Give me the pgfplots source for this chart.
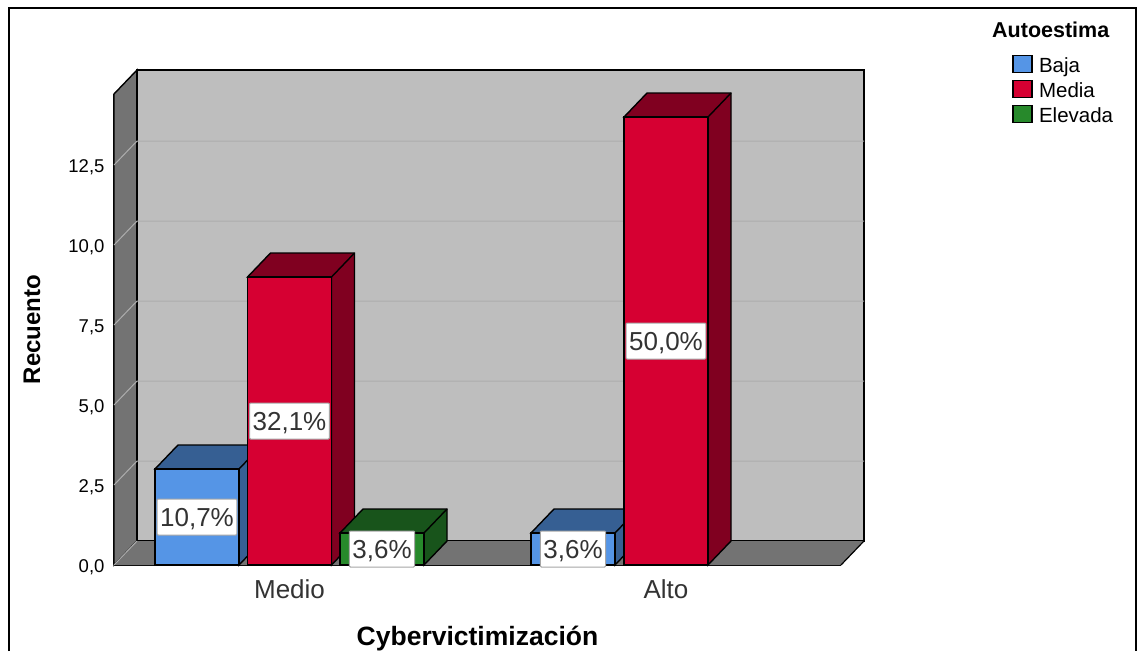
\documentclass[border=0pt]{standalone}
\usepackage{pgfplots}
\pgfplotsset{compat=1.18}
\usepackage{fontspec}
\setmainfont{Liberation Sans}
\definecolor{wall}{HTML}{BEBEBE}
\definecolor{side}{HTML}{737373}
\definecolor{gridl}{HTML}{ADADAD}
\definecolor{baja}{HTML}{5595E6}
\definecolor{bajad}{HTML}{365F93}
\definecolor{media}{HTML}{D60032}
\definecolor{mediad}{HTML}{800020}
\definecolor{elev}{HTML}{27892B}
\definecolor{elevd}{HTML}{18541B}
\definecolor{txt}{HTML}{333333}
\newcommand{\fs}[1]{\fontsize{#1}{#1}\selectfont}
\begin{document}
\begin{tikzpicture}[x=1pt,y=1pt]
\path[use as bounding box] (0,0) rectangle (1141,651);
\draw[black,line width=2pt] (8.5,0) -- (8.5,642.5) -- (1135.5,642.5) -- (1135.5,0);
\begin{axis}[
  at={(114pt,86pt)}, anchor=origin,
  scale only axis, width=727pt, height=471pt,
  xmin=114, xmax=841, ymin=0, ymax=14.72,
  clip=false, axis lines=left, axis line style={-, line width=1.4pt, black},
  major tick length=0pt, no marks,
  ytick={0,2.5,5,7.5,10,12.5},
  xtick={289.5,666}, xticklabels={Medio,Alto},
  /pgf/number format/.cd, fixed, fixed zerofill, precision=1, use comma, assume math mode=true,
  /pgfplots/.cd,
  yticklabel style={font=\fs{18.5}, text=black, xshift=-6pt, yshift=-2.5pt},
  xticklabel style={font=\fs{26}, text=txt, yshift=-11pt},
  xlabel={Cybervictimización}, ylabel={Recuento},
  every axis x label/.style={at={(axis description cs:0.5,0)},anchor=center,yshift=-74pt,font=\fs{26.5}\bfseries},
  every axis y label/.style={at={(axis description cs:0,0.5)},rotate=90,anchor=center,yshift=82pt,font=\fs{24}\bfseries},
  legend image code/.code={\draw[#1,line width=1.3pt] (0pt,-8.5pt) rectangle (19pt,8.5pt); \path (26pt,0pt);},
  legend style={at={(axis cs:1012,15.96)},anchor=north west,draw=none,fill=none,font=\fs{20.5},
    row sep=7pt, inner sep=0pt, nodes={inner sep=0pt, text height=17pt, text depth=0pt, xshift=3pt}},
  legend cell align=left,
]
% walls
\addplot[fill=wall,draw=black,line width=1.2pt,forget plot] coordinates {(137,0.75)(864,0.75)(864,15.47)(137,15.47)} -- cycle;
\addplot[fill=side,draw=black,line width=1.4pt,forget plot] coordinates {(114,0)(137,0.75)(137,15.47)(114,14.72)} -- cycle;
\addplot[fill=side,draw=none,forget plot] coordinates {(114,0)(841,0)(864,0.75)(137,0.75)} -- cycle;
\addplot[draw=black,line width=1.2pt,forget plot] coordinates {(841,0)(864,0.75)};
\addplot[draw=black,line width=1.2pt,forget plot] coordinates {(137,0.75)(137,15.47)};
% grid
\addplot[draw=gridl,line width=1pt,forget plot] coordinates {(114,2.5)(137,3.25)(864,3.25)};
\addplot[draw=gridl,line width=1pt,forget plot] coordinates {(114,5)(137,5.75)(864,5.75)};
\addplot[draw=gridl,line width=1pt,forget plot] coordinates {(114,7.5)(137,8.25)(864,8.25)};
\addplot[draw=gridl,line width=1pt,forget plot] coordinates {(114,10)(137,10.75)(864,10.75)};
\addplot[draw=gridl,line width=1pt,forget plot] coordinates {(114,12.5)(137,13.25)(864,13.25)};
\addplot[draw=gridl,line width=1pt,forget plot] coordinates {(114,0)(137,0.75)};
% Medio - Baja = 3
\addplot[fill=bajad,draw=black,line width=1.4pt,forget plot] coordinates {(239,0)(262,0.75)(262,3.75)(178,3.75)(155,3)(239,3)} -- cycle;
\addplot[draw=black,line width=1.4pt,forget plot] coordinates {(239,3)(262,3.75)};
\addplot[ybar,bar width=84pt,bar shift=0pt,fill=baja,draw=black,line width=1.4pt,forget plot] coordinates {(197,3)};
% Medio - Media = 9
\addplot[fill=mediad,draw=black,line width=1.4pt,forget plot] coordinates {(331.5,0)(354.5,0.75)(354.5,9.75)(270.5,9.75)(247.5,9)(331.5,9)} -- cycle;
\addplot[draw=black,line width=1.4pt,forget plot] coordinates {(331.5,9)(354.5,9.75)};
\addplot[ybar,bar width=84pt,bar shift=0pt,fill=media,draw=black,line width=1.4pt,forget plot] coordinates {(289.5,9)};
% Medio - Elevada = 1
\addplot[fill=elevd,draw=black,line width=1.4pt,forget plot] coordinates {(424,0)(447,0.75)(447,1.75)(363,1.75)(340,1)(424,1)} -- cycle;
\addplot[draw=black,line width=1.4pt,forget plot] coordinates {(424,1)(447,1.75)};
\addplot[ybar,bar width=84pt,bar shift=0pt,fill=elev,draw=black,line width=1.4pt,forget plot] coordinates {(382,1)};
% Alto - Baja = 1
\addplot[fill=bajad,draw=black,line width=1.4pt,forget plot] coordinates {(615,0)(638,0.75)(638,1.75)(554,1.75)(531,1)(615,1)} -- cycle;
\addplot[draw=black,line width=1.4pt,forget plot] coordinates {(615,1)(638,1.75)};
\addplot[ybar,bar width=84pt,bar shift=0pt,fill=baja,draw=black,line width=1.4pt,forget plot] coordinates {(573,1)};
% Alto - Media = 14
\addplot[fill=mediad,draw=black,line width=1.4pt,forget plot] coordinates {(708,0)(731,0.75)(731,14.75)(647,14.75)(624,14)(708,14)} -- cycle;
\addplot[draw=black,line width=1.4pt,forget plot] coordinates {(708,14)(731,14.75)};
\addplot[ybar,bar width=84pt,bar shift=0pt,fill=media,draw=black,line width=1.4pt,forget plot] coordinates {(666,14)};
% data labels
\addplot[only marks,mark=none,forget plot,point meta=explicit symbolic,
  nodes near coords,
  every node near coord/.style={anchor=center,fill=white,draw=gray!70,line width=1pt,rounded corners=1pt,
    font=\fs{26},text=txt,inner xsep=3pt,inner ysep=0pt,minimum height=36pt,text height=21pt,text depth=3pt}]
  coordinates {(197,1.5)[10,7\%] (289.5,4.5)[32,1\%] (382,0.5)[3,6\%] (573,0.5)[3,6\%] (666,7)[50,0\%]};
\addlegendimage{fill=baja,draw=black}\addlegendentry{Baja}
\addlegendimage{fill=media,draw=black}\addlegendentry{Media}
\addlegendimage{fill=elev,draw=black}\addlegendentry{Elevada}
\node[anchor=west,inner sep=0pt,font=\fs{21.5}\bfseries] at (axis cs:992,16.72) {Autoestima};
\end{axis}
\end{tikzpicture}
\end{document}
